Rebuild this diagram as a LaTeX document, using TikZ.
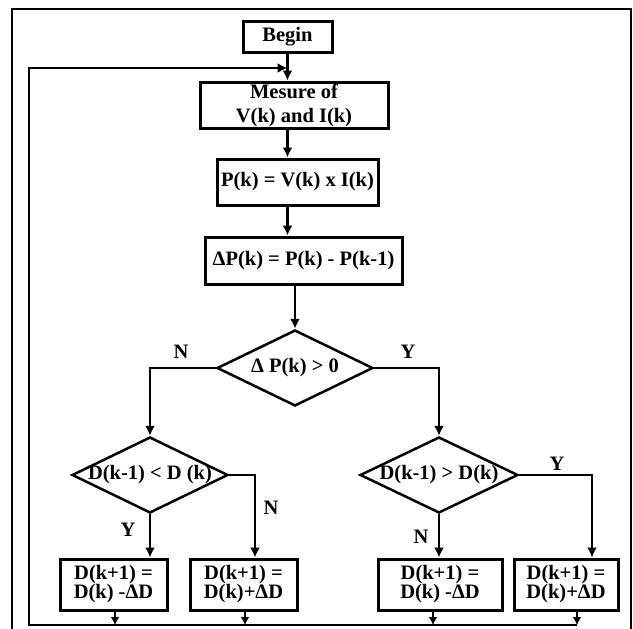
\documentclass[tikz,border=0pt]{standalone}
\usepackage{fontspec}
\setmainfont{Liberation Serif}
\usetikzlibrary{arrows.meta,calc,shapes.geometric,positioning}
\tikzset{
  wire/.style={black,line width=2.3pt},
  flow/.style={wire,-{Latex[length=10pt,width=10pt]}},
  drop/.style={wire,-{Latex[length=8pt,width=9pt]}},
  block/.style={draw=black,line width=3pt,fill=white,inner sep=0pt,align=center,
                font=\fontsize{20.5}{24}\selectfont\bfseries},
  update/.style={block,minimum height=51pt,font=\fontsize{20.5}{19}\selectfont\bfseries},
  test/.style={diamond,draw=black,line width=2.5pt,inner sep=0pt,minimum width=156pt,
               minimum height=76pt,font=\fontsize{20.5}{24}\selectfont\bfseries},
  lab/.style={font=\fontsize{20.5}{24}\selectfont\bfseries},
}

\begin{document}
\begin{tikzpicture}[x=1pt,y=-1pt]
  \useasboundingbox (0,0) rectangle (633,629);
  \draw[line width=2pt] (12,629) -- (12,9) -- (631,9) -- (631,629);

  \node[block,minimum width=89pt,minimum height=31pt] (begin) at (287.5,36.5) {Begin};
  \node[block,minimum width=188pt,minimum height=46pt] (measure) at (294,105)
    {Mesure of\\V(k) and I(k)};
  \node[block,minimum width=161pt,minimum height=46pt] (power) at (297.5,182)
    {P(k) = V(k) x I(k)};
  \node[block,minimum width=197pt,minimum height=47pt] (dpower) at (303.5,260.5)
    {ΔP(k) = P(k) - P(k-1)};

  \node[test] (sign) at (295,368) {\makebox[0pt]{Δ P(k) > 0}};
  \node[test] (dleft) at (150,475) {\makebox[0pt]{D(k-1) < D (k)}};
  \node[test,minimum width=158pt] (dright) at (439,475) {\makebox[0pt]{D(k-1) > D(k)}};

  \node[update,minimum width=107pt] (decL) at (113.5,584.5) {D(k+1) =\\D(k) -ΔD};
  \node[update,minimum width=107pt] (incL) at (243.5,584.5) {D(k+1) =\\D(k)+ΔD};
  \node[update,minimum width=124pt] (decR) at (440,584.5) {D(k+1) =\\D(k) -ΔD};
  \node[update,minimum width=104pt] (incR) at (566,584.5) {D(k+1) =\\D(k)+ΔD};

  % main column
  \draw[flow] (begin.south) -- (begin.south |- measure.north);
  \draw[flow] (begin.south |- measure.south) -- (begin.south |- power.north);
  \draw[flow] (begin.south |- power.south) -- (begin.south |- dpower.north);
  \draw[flow] (sign.north |- dpower.south) -- (sign.north);

  % branches
  \draw[flow] (sign.west) -| (dleft.north);
  \draw[flow] (sign.east) -| (dright.north);
  \draw[flow] (dleft.south) -- (dleft.south |- decL.north);
  \draw[flow] (dleft.east) -| ([xshift=11.5pt]incL.north);
  \draw[flow] (dright.south) -- (dright.south |- decR.north);
  \draw[flow] (dright.east) -| ([xshift=26pt]incR.north);

  \node[lab] (nsign) at (181,352) {N};
  \node[lab] (ysign) at (408,352) {Y};
  \node[lab] (yleft) at (128,530) {Y};
  \node[lab] (nleft) at (271,508) {N};
  \node[lab] (nright) at (421,537) {N};
  \node[lab] (yright) at (557,464) {Y};

  % return loop
  \coordinate (loopbot) at (29,625);
  \coordinate (looptop) at (29,68);
  \draw[drop] ([xshift=1.5pt]decL.south) -- ([xshift=1.5pt]decL.south |- loopbot);
  \draw[drop] ([xshift=1.5pt]incL.south) -- ([xshift=1.5pt]incL.south |- loopbot);
  \draw[drop] ([xshift=-7pt]decR.south) -- ([xshift=-7pt]decR.south |- loopbot);
  \draw[drop] ([xshift=11pt]incR.south) -- ([xshift=11pt]incR.south |- loopbot);
  \draw[flow] ([xshift=11pt]incR.south |- loopbot) -- (loopbot) -- (looptop)
    -- (begin.south |- looptop);
\end{tikzpicture}
\end{document}
